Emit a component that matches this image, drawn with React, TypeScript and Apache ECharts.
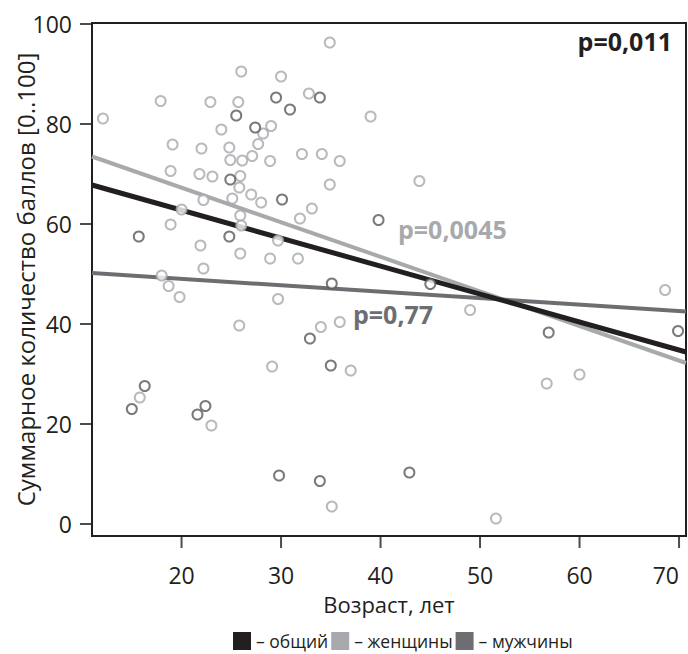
import React, { useEffect, useRef } from "react";
import * as echarts from "echarts";

const xTicks = [20, 30, 40, 50, 60, 70];
const yTicks = [0, 20, 40, 60, 80, 100];

const womenAge = [
  34.9, 26.0, 30.0, 17.9, 22.9, 25.7, 32.8, 24.0, 29.0, 28.2, 27.7, 19.1, 22.0, 24.8, 24.9, 26.1,
  27.1, 28.9, 32.1, 34.1, 35.9, 18.9, 21.8, 23.1, 25.9, 34.9, 39.0, 43.9, 25.8, 27.0, 28.0, 33.1,
  31.9, 25.1, 25.9, 22.2, 20.0, 18.9, 26.0, 29.7, 21.9, 25.9, 28.9, 31.7, 22.2, 18.0, 18.7, 19.8,
  29.7, 25.8, 34.0, 35.9, 29.1, 37.0, 49.0, 68.6, 56.7, 60.0, 35.1, 51.6, 15.8, 23.0, 12.1,
];
const womenScore = [
  96.3, 90.5, 89.5, 84.6, 84.4, 84.4, 86.1, 78.9, 79.6, 78.1, 76.0, 75.9, 75.1, 75.3, 72.8, 72.7,
  73.6, 72.6, 74.0, 74.0, 72.6, 70.6, 70.0, 69.5, 69.6, 67.9, 81.5, 68.6, 67.3, 65.9, 64.3, 63.1,
  61.1, 65.1, 61.7, 64.8, 62.9, 59.9, 59.7, 56.7, 55.7, 54.1, 53.1, 53.1, 51.1, 49.7, 47.6, 45.4,
  45.0, 39.7, 39.4, 40.4, 31.5, 30.7, 42.8, 46.8, 28.1, 29.9, 3.5, 1.1, 25.3, 19.7, 81.1,
];
const menAge = [
  29.5, 33.9, 25.5, 30.9, 27.4, 24.9, 30.1, 39.8, 15.7, 24.8, 35.1, 45.0, 32.9, 35.0, 69.9, 56.9,
  29.8, 33.9, 42.9, 16.3, 15.0, 21.6, 22.4,
];
const menScore = [
  85.3, 85.3, 81.7, 82.9, 79.3, 68.9, 64.9, 60.8, 57.5, 57.5, 48.1, 48.0, 37.1, 31.7, 38.6, 38.3,
  9.7, 8.6, 10.3, 27.6, 23.0, 21.9, 23.6,
];

const fitAge = [11, 70.7];
const totalFit = [67.8, 34.4];
const womenFit = [73.5, 32.2];
const menFit = [50.2, 42.5];

const legendNames = ["– общий", "– женщины", "– мужчины"];
const pLabels = ["p=0,011", "p=0,0045", "p=0,77"];

const X_MIN = 11;
const X_MAX = 70.7;
const Y_MIN = -2.4;
const Y_MAX = 100.2;

const BLACK = "#231f20";
const LIGHT = "#a7a9ac";
const DARK = "#6d6e71";
const DARK_PT = "#58595b";
const FONT = "'Open Sans', 'Noto Sans', sans-serif";
const TICK_LEN = 12;

const zip = (a: number[], b: number[]) => a.map((v, i) => [v, b[i]]);

export default function App() {
  const ref = useRef<HTMLDivElement>(null);
  useEffect(() => {
    document.body.style.margin = "0";
    if (!ref.current) return;
    const chart = echarts.init(ref.current, null, { renderer: "svg" });
    chart.setOption({
      animation: false,
      textStyle: { fontFamily: FONT },
      grid: {
        left: 92,
        right: 2,
        top: 23,
        bottom: 118,
        containLabel: false,
        outerBoundsMode: "none",
        show: true,
        borderColor: BLACK,
        borderWidth: 2,
      },
      legend: {
        top: 627,
        left: 228,
        icon: "rect",
        itemWidth: 18,
        itemHeight: 18,
        itemGap: 3,
        textStyle: { fontSize: 17.5, color: BLACK, fontFamily: FONT },
        data: legendNames,
      },
      xAxis: {
        type: "value",
        min: X_MIN,
        max: X_MAX,
        name: "Возраст, лет",
        nameLocation: "middle",
        nameGap: 57,
        nameMoveOverlap: false,
        nameTextStyle: { fontSize: 22, color: BLACK, fontFamily: FONT },
        axisLine: { show: true, onZero: false, lineStyle: { color: BLACK, width: 2 } },
        axisTick: { show: false },
        axisLabel: {
          fontSize: 23,
          color: BLACK,
          margin: 27,
          fontFamily: FONT,
          customValues: xTicks,
          alignMaxLabel: "right",
        },
        splitLine: { show: false },
      },
      yAxis: {
        type: "value",
        min: Y_MIN,
        max: Y_MAX,
        name: "Суммарное количество баллов [0..100]",
        nameLocation: "middle",
        nameGap: 55,
        nameMoveOverlap: false,
        nameTextStyle: { fontSize: 24, color: BLACK, fontFamily: FONT },
        axisLine: { show: true, onZero: false, lineStyle: { color: BLACK, width: 2 } },
        axisTick: { show: false },
        axisLabel: { fontSize: 23, color: BLACK, margin: 20, fontFamily: FONT, customValues: yTicks },
        splitLine: { show: false },
      },
      series: [
        {
          name: legendNames[0],
          type: "line",
          data: zip(fitAge, totalFit),
          symbol: "none",
          lineStyle: { color: BLACK, width: 5 },
          itemStyle: { color: BLACK },
          z: 3,
        },
        {
          name: legendNames[1],
          type: "line",
          data: zip(fitAge, womenFit),
          symbol: "none",
          lineStyle: { color: LIGHT, width: 4 },
          itemStyle: { color: LIGHT },
          z: 2,
        },
        {
          name: legendNames[2],
          type: "line",
          data: zip(fitAge, menFit),
          symbol: "none",
          lineStyle: { color: DARK, width: 4 },
          itemStyle: { color: DARK },
          z: 2,
        },
        {
          name: "women",
          type: "scatter",
          data: zip(womenAge, womenScore),
          symbol: "circle",
          symbolSize: 10,
          itemStyle: { color: "#ffffff", borderColor: LIGHT, borderWidth: 2 },
          z: 4,
        },
        {
          name: "men",
          type: "scatter",
          data: zip(menAge, menScore),
          symbol: "circle",
          symbolSize: 10,
          itemStyle: { color: "#ffffff", borderColor: DARK_PT, borderWidth: 2 },
          z: 5,
        },
        {
          name: "xTickMarks",
          type: "scatter",
          clip: false,
          silent: true,
          data: xTicks.map((v) => [v, Y_MIN]),
          symbol: "rect",
          symbolSize: [2, TICK_LEN],
          symbolOffset: [0, TICK_LEN / 2],
          itemStyle: { color: BLACK, borderWidth: 0 },
          z: 6,
        },
        {
          name: "yTickMarks",
          type: "scatter",
          clip: false,
          silent: true,
          data: yTicks.map((v) => [X_MIN, v]),
          symbol: "rect",
          symbolSize: [TICK_LEN, 2],
          symbolOffset: [-TICK_LEN / 2, 0],
          itemStyle: { color: BLACK, borderWidth: 0 },
          z: 6,
        },
      ],
      graphic: [
        {
          type: "text",
          right: 16,
          top: 28,
          style: { text: pLabels[0], fill: BLACK, font: `bold 25px ${FONT}` },
          z: 10,
        },
        {
          type: "text",
          left: 398,
          top: 216,
          style: { text: pLabels[1], fill: LIGHT, font: `bold 25px ${FONT}` },
          z: 10,
        },
        {
          type: "text",
          left: 353,
          top: 301,
          style: { text: pLabels[2], fill: DARK, font: `bold 25px ${FONT}` },
          z: 10,
        },
      ],
    });
    return () => chart.dispose();
  }, []);
  return <div ref={ref} style={{ width: 688, height: 654 }} />;
}
